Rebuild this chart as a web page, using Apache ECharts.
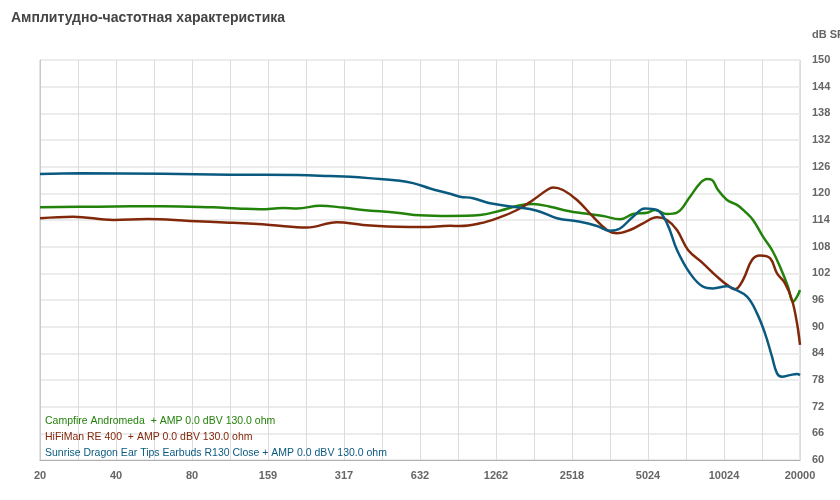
<!DOCTYPE html>
<html>
<head>
<meta charset="utf-8">
<script src="https://cdn.jsdelivr.net/npm/echarts@6/dist/echarts.min.js"></script>
<style>
html,body{margin:0;padding:0;background:#fff;}
#chart{width:840px;height:500px;}
</style>
</head>
<body>
<div id="chart"></div>
<script>
var titleText = 'Амплитудно-частотная характеристика';
var yAxisName = 'dB SPL';
var xTickLabels = ['20','40','80','159','317','632','1262','2518','5024','10024','20000'];

var seriesNames = [
  'Campfire Andromeda  + AMP 0.0 dBV 130.0 ohm',
  'HiFiMan RE 400  + AMP 0.0 dBV 130.0 ohm',
  'Sunrise Dragon Ear Tips Earbuds R130 Close + AMP 0.0 dBV 130.0 ohm'
];
var seriesColors = ['#23820a', '#82280a', '#0a5a80'];

// Campfire Andromeda (green)
var greenFreq = [20,34,61,96,120,148,182,207,255,314,377,513,632,831,1091,1309,1570,1767,2061,2406,2782,3338,3896,4384,4979,5354,5970,6538,7360,8060,8590,8990,9494,10300,11280,12132,13046,14288,15508,16682,17936,18772,19464,20000];
var greenDb   = [116.85,117.0,117.1,116.85,116.6,116.4,116.7,116.6,117.2,116.8,116.25,115.65,115.05,114.9,115.1,116.1,117.3,117.6,117.0,116.1,115.5,114.9,114.15,115.35,115.65,116.25,115.35,115.65,119.25,122.25,123.2,123.0,120.75,118.5,117.4,115.9,114.0,110.25,107.25,103.5,99.0,95.6,96.75,98.25];

// HiFiMan RE 400 (brown)
var brownFreq = [20,27,39,53,78,112,162,226,297,377,513,650,831,910,1091,1274,1528,1767,2006,2118,2320,2636,3047,3462,3791,4266,4802,5452,5970,6538,7228,8282,9408,10300,11076,11912,12928,13904,15228,16232,17452,18600,19464,20000];
var brownDb   = [114.4,114.75,114.0,114.2,113.8,113.4,112.9,112.3,113.5,112.9,112.5,112.4,112.7,112.65,113.25,114.4,116.25,118.5,120.75,121.3,120.75,118.5,114.75,111.75,111.0,111.75,113.25,114.6,114.0,111.75,107.25,104.25,101.25,99.4,98.4,100.5,105.0,106.0,105.4,102.0,99.75,96.0,90.75,85.9];

// Sunrise Dragon Ear Tips (blue)
var blueFreq = [20,29,61,112,207,279,335,440,513,594,693,831,910,1024,1195,1473,1832,2198,2708,3160,3557,3896,4384,4890,5452,5970,6538,7360,8282,9072,10300,10876,12354,13530,14550,15508,16232,16982,18264,19464,20000];
var blueDb   = [124.35,124.5,124.4,124.2,124.1,123.9,123.75,123.2,122.9,122.3,121.1,119.9,119.25,118.9,117.75,117.0,116.1,114.4,113.6,112.65,111.6,112.1,114.75,116.6,116.25,113.25,107.25,102.0,99.0,98.6,99.1,98.6,96.75,93.0,88.5,83.25,79.5,78.75,79.1,79.35,79.1];

// map frequency to axis position: one unit = 0.3 decade, 20 Hz at 0, 20 kHz at 10
function toAxis(f){ return Math.log10(f/20)/0.3; }
function build(freqs, dbs){
  var out = [];
  for (var i=0;i<freqs.length;i++) out.push([toAxis(freqs[i]), dbs[i]]);
  return out;
}
var allData = [build(greenFreq, greenDb), build(brownFreq, brownDb), build(blueFreq, blueDb)];

var font = '"Liberation Sans", Arial, sans-serif';
var chart = echarts.init(document.getElementById('chart'), null, {renderer:'canvas'});
var series = seriesNames.map(function(n, i){
  return {
    name: n, type: 'line', data: allData[i], showSymbol: false, smooth: 0.4,
    lineStyle: {color: seriesColors[i], width: 2.5},
    itemStyle: {color: seriesColors[i]},
    emphasis: {disabled: true}
  };
});
chart.setOption({
  animation: false,
  backgroundColor: '#fff',
  title: [{
    text: titleText, left: 6, top: 6,
    textStyle: {fontFamily: font, fontSize: 14, fontWeight: 'bold', color: '#444'}
  }, {
    text: yAxisName, left: 807, top: 24,
    textStyle: {fontFamily: font, fontSize: 11, fontWeight: 'bold', color: '#666'}
  }],
  legend: {
    orient: 'vertical', left: 35, top: 409,
    icon: 'rect', itemWidth: 0, itemHeight: 14, itemGap: 2,
    selectedMode: false,
    data: seriesNames.map(function(n, i){ return {name: n, textStyle: {color: seriesColors[i]}}; }),
    textStyle: {fontFamily: font, fontSize: 10.5}
  },
  grid: {left: 40, right: 40, top: 60, bottom: 40, show: true, borderColor: '#c8c8c8', borderWidth: 1},
  xAxis: {
    type: 'value', min: 0, max: 10, interval: 0.5,
    axisLine: {show: true, lineStyle: {color: '#b0b0b0'}},
    axisTick: {show: false},
    splitLine: {show: true, lineStyle: {color: '#dcdcdc', width: 1}},
    axisLabel: {
      fontFamily: font, fontSize: 11, fontWeight: 'bold', color: '#666', margin: 10,
      showMinLabel: true, showMaxLabel: true,
      formatter: function(v){
        var r = Math.round(v);
        if (Math.abs(v - r) < 1e-6) return xTickLabels[r];
        return '';
      }
    }
  },
  yAxis: {
    type: 'value', position: 'right', min: 60, max: 150, interval: 6,
    axisLine: {show: true, lineStyle: {color: '#c8c8c8'}},
    axisTick: {show: false},
    splitLine: {show: true, lineStyle: {color: '#ececec', width: 2}},
    axisLabel: {fontFamily: font, fontSize: 11, fontWeight: 'bold', color: '#666', margin: 12}
  },
  series: series
});
</script>
</body>
</html>
